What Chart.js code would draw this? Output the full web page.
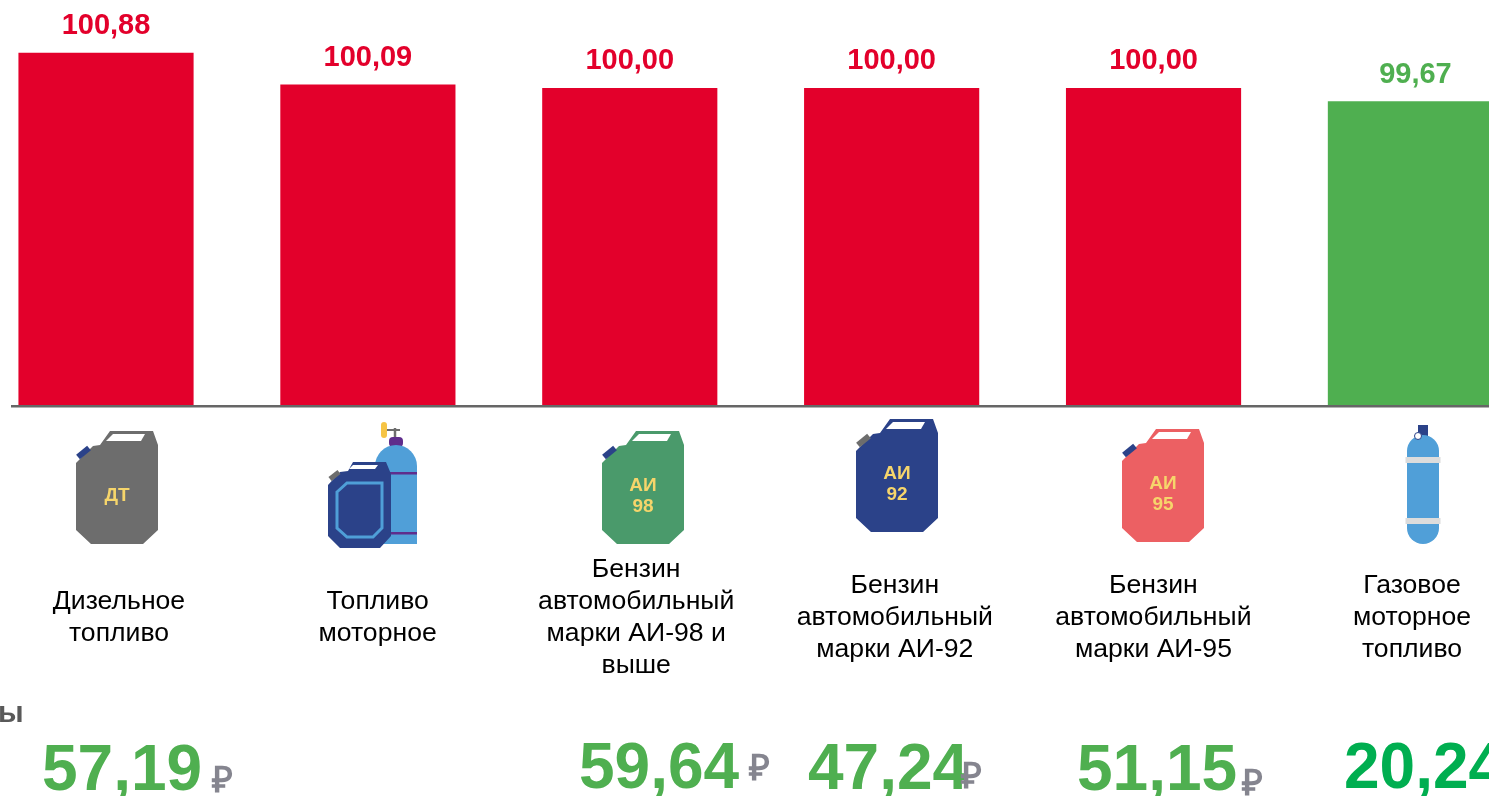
<!DOCTYPE html>
<html lang="ru">
<head>
<meta charset="utf-8">
<title>Индексы цен на топливо</title>
<script src="https://cdn.jsdelivr.net/npm/chart.js@4/dist/chart.umd.js"></script>
<style>
  html, body { margin: 0; padding: 0; background: #fff; overflow: hidden; }
  #wrap { position: relative; width: 1489px; height: 796px; overflow: hidden; }
  #wrap canvas, #wrap svg { position: absolute; left: 0; top: 0; }
  svg text { font-family: 'Liberation Sans', Arial, sans-serif; font-weight: 700; }
</style>
</head>
<body>
<div id="wrap">
  <canvas id="fuel" width="1489" height="796"></canvas>
  <svg id="icons" width="1489" height="796" viewBox="0 0 1489 796"></svg>
</div>
<script>
const categories = [
  ['Дизельное', 'топливо'],
  ['Топливо', 'моторное'],
  ['Бензин', 'автомобильный', 'марки АИ-98 и', 'выше'],
  ['Бензин', 'автомобильный', 'марки АИ-92'],
  ['Бензин', 'автомобильный', 'марки АИ-95'],
  ['Газовое', 'моторное', 'топливо'],
];
const indexValues = [100.88, 100.09, 100.0, 100.0, 100.0, 99.67];
const prices = ['57,19', null, '59,64', '47,24', '51,15', '20,24'];

const RED = '#e3002b';
const GREEN = '#4faf50';
const FONT = "'Liberation Sans', Arial, sans-serif";

// the text boxes under the bars do not sit exactly under them on the slide
const LABEL_LEFT = 119;
const LABEL_STEP = 258.6;

const barLabels = {
  id: 'barLabels',
  afterDatasetsDraw(chart) {
    const ctx = chart.ctx;
    const bars = chart.getDatasetMeta(0).data;
    ctx.save();
    ctx.textAlign = 'center';
    ctx.textBaseline = 'middle';
    ctx.font = `700 29px ${FONT}`;
    bars.forEach((bar, i) => {
      ctx.fillStyle = indexValues[i] >= 100 ? RED : GREEN;
      ctx.fillText(indexValues[i].toFixed(2).replace('.', ','), bar.x, bar.y - 27);
    });
    ctx.font = `400 26.6px ${FONT}`;
    ctx.fillStyle = '#000';
    categories.forEach((lines, i) => {
      const top = 618 - ((lines.length - 1) * 32) / 2;
      lines.forEach((line, k) => {
        ctx.fillText(line, LABEL_LEFT + i * LABEL_STEP, top + k * 32);
      });
    });
    ctx.restore();
  },
};

new Chart(document.getElementById('fuel'), {
  type: 'bar',
  data: {
    datasets: [{
      data: indexValues.map((y, x) => ({ x, y })),
      backgroundColor: indexValues.map((v) => (v >= 100 ? RED : GREEN)),
      barThickness: 174.5,
      borderWidth: 0,
    }],
  },
  options: {
    responsive: false,
    animation: false,
    layout: { padding: { left: 12, right: 0, top: 0, bottom: 390 } },
    plugins: { legend: { display: false }, tooltip: { enabled: false } },
    scales: {
      x: {
        type: 'linear',
        offset: false,
        min: -0.359,
        max: 5.281,
        ticks: { display: false },
        grid: { display: false, drawTicks: false },
        border: { color: '#666666', width: 2.5, z: 1 },
        afterFit(scale) { scale.height = 0; },
      },
      y: { display: false, min: 92.05, max: 102.21 },
    },
  },
  plugins: [barLabels],
});

function can(x, y, body, cap, lines) {
  const text = lines.map(([t, ty]) =>
    `<text x="41" y="${ty}" font-size="19" fill="#f6d56b" text-anchor="middle">${t}</text>`).join('');
  return `<g transform="translate(${x} ${y})">
    <polygon points="0,32 17,15 24,14 34,0 77,0 82,14 82,99 67,113 15,113 0,99" fill="${body}"/>
    <line x1="2" y1="26" x2="13" y2="17" stroke="${cap}" stroke-width="6"/>
    <polygon points="37,3 69,3 65,10 30,10" fill="#fff"/>
    ${text}</g>`;
}

const svg = document.getElementById('icons');
let html = '';
html += can(76, 431, '#6d6d6d', '#2b4289', [['ДТ', 70]]);
html += can(602, 431, '#4a9a6b', '#2b4289', [['АИ', 60], ['98', 81]]);
html += can(856, 419, '#2b4289', '#6d6d6d', [['АИ', 60], ['92', 81]]);
html += can(1122, 429, '#ec6063', '#2b4289', [['АИ', 60], ['95', 81]]);

// cylinder behind the canister
html += `<line x1="381" y1="430" x2="400" y2="430" stroke="#6d6d6d" stroke-width="2"/>
  <line x1="395" y1="428" x2="395" y2="438" stroke="#6d6d6d" stroke-width="2.5"/>
  <rect x="381" y="422" width="6" height="16" rx="3" fill="#f6c445"/>
  <rect x="389" y="437" width="14" height="10" rx="4" fill="#5f2d8c"/>
  <path d="M375 544V466a21 21 0 0 1 42 0V544Z" fill="#509fd8"/>
  <rect x="388" y="472" width="29" height="2.5" fill="#5f2d8c"/>
  <rect x="388" y="532" width="29" height="2.5" fill="#5f2d8c"/>`;
html += `<g transform="translate(328 461)">
  <polygon points="0,24 12,11 20,10 25,1 58,1 63,13 63,75 52,87 12,87 0,75" fill="#2b4289"/>
  <line x1="2" y1="18" x2="11" y2="11" stroke="#6d6d6d" stroke-width="5"/>
  <polygon points="25,4 50,4 47,8 21,8" fill="#fff"/>
  <polygon points="9,31 19,22 54,22 54,67 45,76 19,76 9,67" fill="none" stroke="#4f9fd8" stroke-width="3"/></g>`;

// gas cylinder
html += `<rect x="1418" y="425" width="10" height="12" fill="#2b4289"/>
  <rect x="1407" y="435" width="32" height="109" rx="16" fill="#509fd8"/>
  <rect x="1405.5" y="457" width="35" height="6" fill="#dcdcdc"/>
  <rect x="1405.5" y="518" width="35" height="6" fill="#dcdcdc"/>
  <circle cx="1418" cy="436" r="3.5" fill="#fff" stroke="#2b4289"/>`;

// clipped caption of the price row
html += `<text x="-2" y="722" font-size="30" fill="#595959">ы</text>`;

const priceX = [42, null, 579, 808, 1077, 1344];
const priceY = [790, null, 788, 789, 790, 788];
const rubX = [212, null, 749, 961, 1242, null];
const rubY = [792, null, 780, 788, 795, null];
prices.forEach((p, i) => {
  if (!p) return;
  const fill = i === 5 ? '#00ae50' : GREEN;
  html += `<text x="${priceX[i]}" y="${priceY[i]}" font-size="64" fill="${fill}">${p}</text>`;
  if (rubX[i]) html += `<text x="${rubX[i]}" y="${rubY[i]}" font-size="36" fill="#85858f">₽</text>`;
});
svg.innerHTML = html;
</script>
</body>
</html>
